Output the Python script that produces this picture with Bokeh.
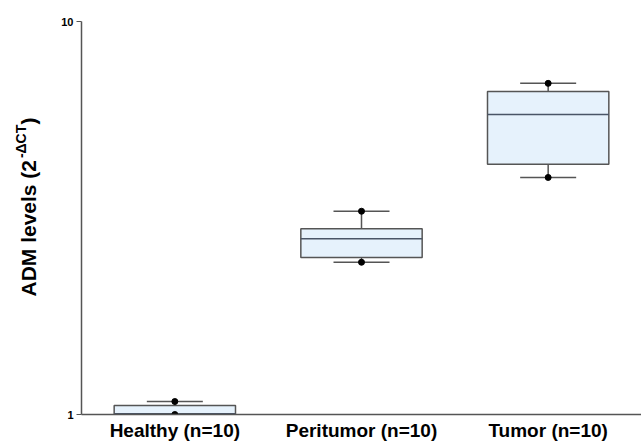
import math
from bokeh.plotting import figure
from bokeh.layouts import row
from bokeh.models import ColumnDataSource, FixedTicker, BasicTickFormatter, FactorRange, Range1d
from bokeh.core.properties import value
from bokeh.transform import dodge
from bokeh.embed import file_html
from bokeh.resources import INLINE

categories = ["Healthy (n=10)", "Peritumor (n=10)", "Tumor (n=10)"]
lower = [1.0, 2.44, 4.01]
q1 = [1.0, 2.51, 4.33]
median = [1.005, 2.80, 5.80]
q3 = [1.054, 2.97, 6.64]
upper = [1.079, 3.29, 6.96]

ylabel_main = "ADM levels (2"
ylabel_sup = "-ΔCT"
ylabel_end = ")"

H = 443
LW = 58

src = ColumnDataSource(dict(cat=categories, lower=lower, q1=q1, median=median, q3=q3, upper=upper))

# --- narrow panel holding the y-axis title (with superscript) ---
t = figure(width=LW, height=H, x_range=Range1d(0, LW), y_range=Range1d(0, H),
           output_backend="svg", toolbar_location=None, x_axis_location=None, y_axis_location=None,
           min_border_left=0, min_border_right=0, min_border_top=0, min_border_bottom=0)
t.outline_line_color = None
t.grid.visible = False
common = dict(angle=math.pi / 2, text_align="left", text_baseline="middle",
              text_font=value("Liberation Sans"), text_font_style="bold", text_color="black")
t.text(x=[28], y=[H - 310], text=[ylabel_main], text_font_size="21px", **common)
t.text(x=[20], y=[H - 310 + 156], text=[ylabel_sup], text_font_size="14px", **common)
t.text(x=[28], y=[H - 310 + 194], text=[ylabel_end], text_font_size="21px", **common)

# --- main chart ---
p = figure(x_range=FactorRange(factors=categories, range_padding=0), y_axis_type="log", y_range=(1, 10),
           width=641 - LW, height=H, output_backend="svg", toolbar_location=None,
           min_border_left=22, min_border_right=0, min_border_top=21, min_border_bottom=29)

p.outline_line_color = None
p.grid.visible = False
p.background_fill_color = "white"

edge = "#555555"
# whiskers
p.segment(x0="cat", x1="cat", y0="q3", y1="upper", source=src, line_color=edge, line_width=1.5)
p.segment(x0="cat", x1="cat", y0="lower", y1="q1", source=src, line_color=edge, line_width=1.5)
# boxes
p.vbar(x="cat", width=0.65, bottom="q1", top="q3", source=src, fill_color="#E6F2FC",
       line_color=edge, line_width=1.5)
# median
p.segment(x0=dodge("cat", -0.325, range=p.x_range), x1=dodge("cat", 0.325, range=p.x_range),
          y0="median", y1="median", source=src, line_color="#4a5566", line_width=1.5)
# caps
p.segment(x0=dodge("cat", -0.15, range=p.x_range), x1=dodge("cat", 0.15, range=p.x_range),
          y0="upper", y1="upper", source=src, line_color=edge, line_width=1.5)
p.segment(x0=dodge("cat", -0.15, range=p.x_range), x1=dodge("cat", 0.15, range=p.x_range),
          y0="lower", y1="lower", source=src, line_color=edge, line_width=1.5)
# end dots
p.scatter(x="cat", y="upper", source=src, size=6, color="black")
p.scatter(x="cat", y="lower", source=src, size=6, color="black")

# y axis
p.yaxis.ticker = FixedTicker(ticks=[1, 10], minor_ticks=[])
p.yaxis.formatter = BasicTickFormatter()
p.yaxis.major_label_text_font = "Liberation Sans"
p.yaxis.major_label_text_font_style = "bold"
p.yaxis.major_label_text_font_size = "11px"
p.yaxis.major_label_text_color = "black"
p.yaxis.major_label_standoff = 3
p.yaxis.major_tick_out = 5
p.yaxis.major_tick_in = 0
p.yaxis.minor_tick_line_color = None
p.yaxis.axis_line_color = edge
p.yaxis.major_tick_line_color = edge
p.yaxis.axis_line_width = 1.5

# x axis
p.xaxis.major_tick_line_color = None
p.xaxis.major_tick_out = 0
p.xaxis.major_tick_in = 0
p.xaxis.major_label_standoff = 5
p.xaxis.major_label_text_font = "Liberation Sans"
p.xaxis.major_label_text_font_style = "bold"
p.xaxis.major_label_text_font_size = "19px"
p.xaxis.major_label_text_color = "black"
p.xaxis.axis_line_color = edge
p.xaxis.axis_line_width = 1.5

layout = row(t, p, spacing=0)
open("out.html", "w").write(file_html(layout, INLINE))
